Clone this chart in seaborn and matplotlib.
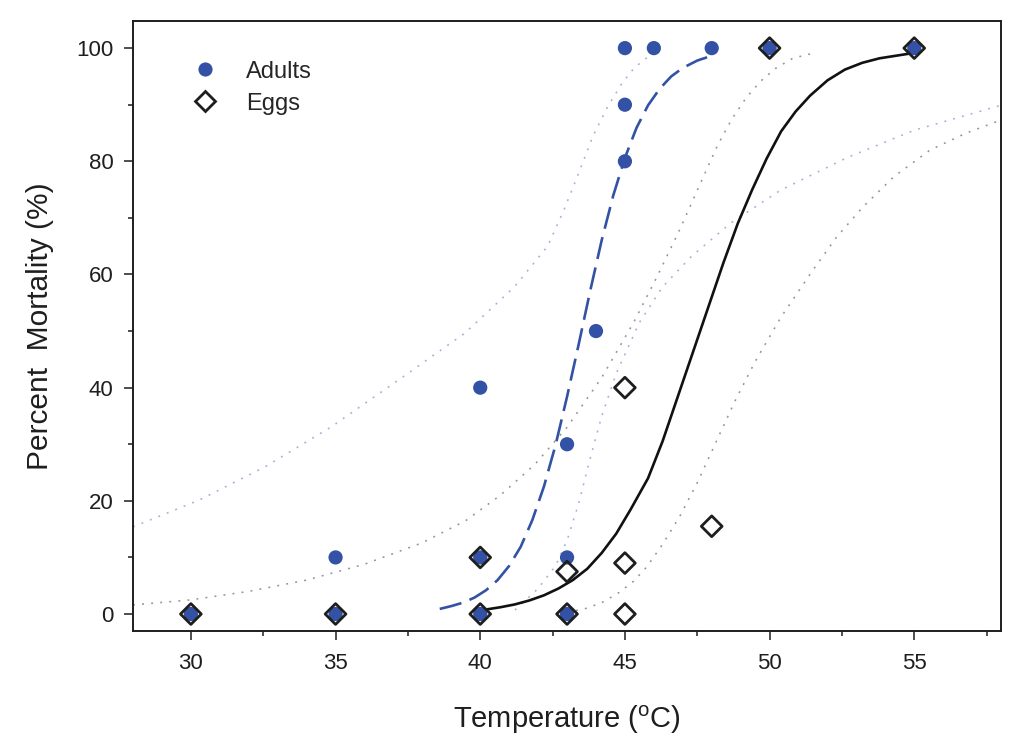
import matplotlib
matplotlib.use("Agg")
import matplotlib.pyplot as plt
from matplotlib.lines import Line2D
from matplotlib.ticker import MultipleLocator
import seaborn as sns

# observed mortality (%)
adult_temp = [30, 35, 35, 40, 40, 40, 43, 43, 43, 44, 45, 45, 45, 46, 48, 50, 55]
adult_mort = [0, 0, 10, 0, 10, 40, 0, 10, 30, 50, 80, 90, 100, 100, 100, 100, 100]
egg_temp = [30, 35, 40, 40, 43, 43, 45, 45, 45, 48, 50, 55]
egg_mort = [0, 0, 0, 10, 0, 7.5, 0, 9, 40, 15.5, 100, 100]

# fitted curves
adult_fit_x = [38.6, 39.0, 39.4, 39.8, 40.2, 40.6, 41.0, 41.4, 41.8, 42.2, 42.6, 43.0,
               43.4, 43.8, 44.2, 44.6, 45.0, 45.4, 45.8, 46.2, 46.6, 47.0, 47.5, 48.03]
adult_fit_y = [0.9, 1.4, 2.0, 2.9, 4.2, 6.0, 8.5, 11.9, 16.6, 22.5, 29.8, 38.4,
               47.6, 57.1, 66.1, 74.0, 80.6, 85.9, 89.9, 92.8, 95.0, 96.5, 97.8, 98.7]
egg_fit_x = [40.2, 40.7, 41.2, 41.7, 42.2, 42.7, 43.2, 43.7, 44.2, 44.7, 45.2, 45.8,
             46.3, 46.9, 47.4, 47.9, 48.4, 48.9, 49.4, 49.9, 50.4, 50.9, 51.4, 52.0,
             52.6, 53.2, 53.8, 54.3, 54.8]
egg_fit_y = [0.8, 1.2, 1.7, 2.4, 3.3, 4.5, 6.0, 8.0, 10.8, 14.2, 18.5, 24.0,
             30.5, 39.5, 47.0, 54.5, 62.0, 69.0, 75.0, 80.5, 85.3, 88.8, 91.6, 94.3,
             96.2, 97.4, 98.2, 98.6, 99.0]

# confidence limits
adult_hi_x = [28.0, 30.27, 32.56, 34.86, 37.16, 39.46, 41.18, 42.33, 42.9, 43.37,
              43.9, 44.4, 44.9, 45.32, 46.0]
adult_hi_y = [15.4, 20.1, 26.0, 33.1, 41.3, 49.6, 57.8, 65.0, 71.5, 77.5,
              84.5, 89.6, 93.8, 96.5, 99.3]
adult_lo_x = [41.2, 42.0, 42.6, 43.0, 43.4, 43.8, 44.2, 44.7, 45.5, 46.3, 47.3,
              48.66, 50.38, 52.7, 55.0, 58.0]
adult_lo_y = [0.7, 4.5, 8.5, 13.0, 19.5, 27.5, 35.0, 42.5, 51.5, 57.8, 63.2,
              69.1, 74.9, 80.7, 85.5, 89.9]
egg_hi_x = [28.0, 30.0, 32.0, 34.0, 36.0, 38.0, 39.5, 40.7, 41.9, 43.0, 44.2, 45.3,
            46.1, 46.9, 47.6, 48.2, 48.7, 49.2, 49.7, 50.2, 50.8, 51.5]
egg_hi_y = [1.6, 2.5, 4.0, 6.0, 8.8, 12.6, 16.5, 21.0, 26.5, 33.0, 41.8, 51.5,
            59.5, 68.0, 76.0, 82.8, 87.5, 91.3, 94.2, 96.4, 98.2, 99.1]
egg_lo_x = [43.0, 43.6, 44.2, 44.8, 45.3, 45.75, 46.3, 46.9, 47.5, 48.07, 48.8, 49.5,
            50.4, 51.5, 52.3, 53.2, 54.3, 55.55, 56.8, 58.0]
egg_lo_y = [0.3, 0.9, 2.0, 3.8, 5.8, 8.3, 12.3, 17.3, 23.2, 29.5, 37.6, 44.6,
            52.5, 60.8, 66.5, 71.8, 77.3, 82.0, 85.0, 87.3]

blue = "#3452a5"
dot_blue = "#a3b1de"
dot_grey = "#959595"
ink = "#1e1e1e"

sns.set_style("ticks")
plt.rcParams["font.family"] = ["Liberation Sans", "DejaVu Sans"]
plt.rcParams["mathtext.fontset"] = "custom"
plt.rcParams["mathtext.rm"] = "Liberation Sans"

fig = plt.figure(figsize=(10.24, 7.51), dpi=100)
ax = fig.add_axes([0.1299, 0.1598, 0.8477, 0.8123])

dotted = (0, (1.2, 4.5))
for xs, ys, c in [(adult_hi_x, adult_hi_y, dot_blue), (adult_lo_x, adult_lo_y, dot_blue),
                  (egg_hi_x, egg_hi_y, dot_grey), (egg_lo_x, egg_lo_y, dot_grey)]:
    sns.lineplot(x=xs, y=ys, ax=ax, estimator=None, sort=False, color=c,
                 linewidth=1.15, linestyle=dotted, zorder=1)

sns.lineplot(x=adult_fit_x, y=adult_fit_y, ax=ax, estimator=None, sort=False,
             color=blue, linewidth=1.9, linestyle=(0, (8.5, 3.3)), zorder=2)
sns.lineplot(x=egg_fit_x, y=egg_fit_y, ax=ax, estimator=None, sort=False,
             color="#111111", linewidth=1.9, zorder=2)

sns.scatterplot(x=adult_temp, y=adult_mort, ax=ax, s=105, color=blue,
                edgecolor="none", zorder=3)
sns.scatterplot(x=egg_temp, y=egg_mort, ax=ax, s=112, marker="D",
                facecolor="none", edgecolor=ink, linewidth=2.0, zorder=4)

ax.set_xlim(28, 58)
ax.set_ylim(-3, 104.8)
ax.xaxis.set_major_locator(MultipleLocator(5))
ax.xaxis.set_minor_locator(MultipleLocator(2.5))
ax.yaxis.set_major_locator(MultipleLocator(20))
ax.yaxis.set_minor_locator(MultipleLocator(10))
ax.tick_params(which="major", direction="out", length=6.2, width=1.1,
               labelsize=16, color=ink, labelcolor=ink)
ax.tick_params(which="minor", direction="out", length=3.5, width=1.1, color=ink)
ax.tick_params(axis="x", which="major", pad=10)
ax.tick_params(axis="y", which="major", pad=8)
for sp in ax.spines.values():
    sp.set_visible(True)
    sp.set_linewidth(1.4)
    sp.set_color(ink)

ax.set_xlabel(r"Temperature ($\mathregular{^o}$C)", fontsize=21, color=ink, labelpad=21)
ax.set_ylabel("Percent  Mortality (%)", fontsize=21.5, color=ink, labelpad=16)

handles = [
    Line2D([], [], linestyle="none", marker="o", markersize=10.2, color=blue,
           markeredgecolor="none"),
    Line2D([], [], linestyle="none", marker="D", markersize=10.0,
           markerfacecolor="none", markeredgecolor=ink, markeredgewidth=2.0),
]
ax.legend(handles, ["Adults", "Eggs"], loc="upper left", bbox_to_anchor=(0.069, 0.935),
          frameon=False, fontsize=17, handlelength=1.0, handletextpad=1.25,
          labelspacing=0.42, borderpad=0, borderaxespad=0)

fig.savefig("out.png", dpi=100)
